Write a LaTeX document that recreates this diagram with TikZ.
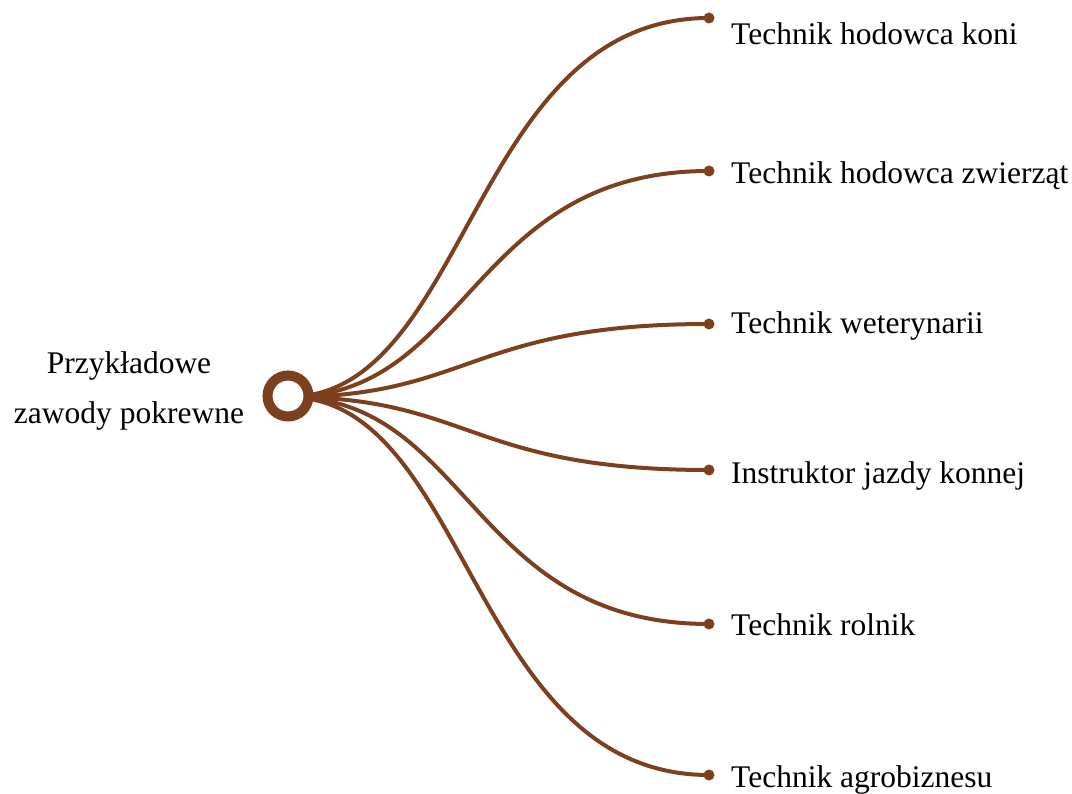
\documentclass[tikz,border=0pt]{standalone}
\usepackage{fontspec}
\setmainfont{Liberation Serif}
\definecolor{brn}{RGB}{125,64,30}
\begin{document}
\begin{tikzpicture}[x=1pt,y=-1pt,
  link/.style={draw=brn,line width=4pt},
  enddot/.style={circle,fill=brn,inner sep=0pt,minimum size=11pt},
  hub/.style={circle,draw=brn,line width=10pt,fill=white,inner sep=0pt,minimum size=41pt},
  lab/.style={anchor=base west,inner sep=0pt,font=\fontsize{31.5}{50}\selectfont},
  root/.style={align=center,inner sep=0pt,font=\fontsize{31.5}{50}\selectfont}]
\useasboundingbox (0,0) rectangle (1072,794);
\coordinate (c0) at (288,397);
\foreach \i/\y in {1/18,2/171,3/324,4/470,5/624,6/775}{
  \node[enddot] (d\i) at (709,\y) {};
  \draw[link] (c0) .. controls (470,397) and (470,\y) .. (d\i.center);
}
\node[hub] (c) at (288,396) {};
\node[root,anchor=base] (r) at (129,424) {Przykładowe\\zawody pokrewne};
\node[lab] (l1) at (731,45) {Technik hodowca koni};
\node[lab] (l2) at (731,184) {Technik hodowca zwierząt};
\node[lab] (l3) at (731,334) {Technik weterynarii};
\node[lab] (l4) at (731,484) {Instruktor jazdy konnej};
\node[lab] (l5) at (731,635) {Technik rolnik};
\node[lab] (l6) at (731,787) {Technik agrobiznesu};
\end{tikzpicture}
\end{document}
